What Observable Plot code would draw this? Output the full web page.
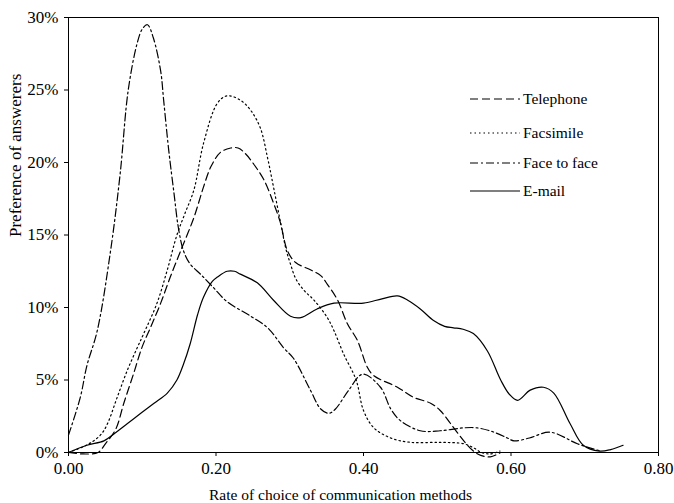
<!DOCTYPE html>
<html>
<head>
<meta charset="utf-8">
<script src="https://cdn.jsdelivr.net/npm/d3@7"></script>
<script src="https://cdn.jsdelivr.net/npm/@observablehq/plot@0.6"></script>
<style>
  body { margin: 0; background: #fff; }
  #wrap { position: relative; width: 674px; height: 503px; font-family: "Liberation Serif", "DejaVu Serif", serif; }
  .leg { position: absolute; left: 470px; display: flex; align-items: center; font-size: 15.5px; color: #000; }
  .leg svg { margin-right: 3px; }
</style>
</head>
<body>
<div id="wrap"></div>
<script>
// Series: x = rate of choice, y = preference (%)
const telephoneX = [0.00,0.02,0.04,0.05,0.064,0.075,0.088,0.10,0.111,0.125,0.138,0.152,0.17,0.183,0.193,0.206,0.22,0.23,0.24,0.251,0.265,0.278,0.287,0.297,0.308,0.328,0.342,0.351,0.365,0.378,0.392,0.405,0.414,0.446,0.468,0.491,0.504,0.518,0.536,0.549,0.559,0.572,0.586];
const telephoneY = [0,-0.1,0,0.6,1.6,3.4,5.4,7.3,8.6,10.3,12.1,13.9,16.2,18.3,19.7,20.7,21.0,21.0,20.6,19.9,18.8,17.2,15.9,13.9,13.1,12.6,12.2,11.6,10.5,8.9,7.7,5.9,5.3,4.5,3.8,3.4,2.9,2.0,0.8,0.1,-0.2,-0.3,0];

const facsimileX = [0.00,0.02,0.034,0.045,0.053,0.066,0.08,0.093,0.102,0.12,0.134,0.147,0.158,0.17,0.183,0.202,0.215,0.233,0.247,0.26,0.27,0.278,0.287,0.295,0.301,0.308,0.319,0.333,0.351,0.36,0.373,0.39,0.40,0.414,0.437,0.464,0.504,0.536,0.55,0.56,0.572,0.585];
const facsimileY = [0,0.4,0.8,1.3,2.0,3.8,5.7,7.2,8.2,10.3,12.6,15.0,16.5,18.1,21.3,24.1,24.6,24.3,23.6,22.4,20.3,18.3,16.0,14.0,13.0,12.0,11.2,10.5,9.3,8.4,6.8,5.0,2.9,1.7,1.0,0.7,0.7,0.6,0.3,0.0,-0.1,0.1];

const faceX = [0.00,0.016,0.025,0.039,0.057,0.07,0.081,0.093,0.100,0.107,0.115,0.125,0.129,0.136,0.143,0.149,0.156,0.165,0.179,0.196,0.215,0.247,0.27,0.292,0.305,0.328,0.342,0.353,0.362,0.38,0.399,0.423,0.437,0.45,0.477,0.504,0.536,0.554,0.577,0.595,0.604,0.625,0.653,0.69,0.708,0.722];
const faceY = [1.2,3.8,6.0,8.4,13.9,19.2,25.0,28.2,29.2,29.5,28.6,26.3,24.3,20.8,17.9,15.5,13.9,13.0,12.3,11.4,10.4,9.4,8.6,7.2,6.5,4.3,3.0,2.7,3.0,4.3,5.4,4.5,3.0,2.2,1.5,1.5,1.7,1.7,1.4,1.0,0.8,1.0,1.4,0.6,0.3,0.1];

const emailX = [0.00,0.025,0.048,0.062,0.08,0.098,0.116,0.134,0.147,0.156,0.165,0.175,0.183,0.195,0.202,0.215,0.225,0.233,0.256,0.278,0.301,0.315,0.337,0.36,0.40,0.425,0.446,0.46,0.477,0.495,0.51,0.522,0.535,0.549,0.568,0.586,0.598,0.609,0.626,0.644,0.658,0.68,0.698,0.72,0.735,0.752];
const emailY = [0,0.5,0.8,1.3,2.0,2.7,3.4,4.1,5.0,6.1,7.5,9.5,10.7,11.8,12.1,12.5,12.5,12.3,11.7,10.5,9.4,9.3,9.9,10.3,10.3,10.6,10.8,10.5,9.9,9.1,8.7,8.6,8.5,8.2,7.0,5.0,4.0,3.6,4.3,4.5,4.1,2.0,0.5,0.1,0.2,0.5];

const seriesNames = ["Telephone", "Facsimile", "Face to face", "E-mail"];
const seriesDash = ["8,4", "1.5,3", "8,3,2,3", null];
const xTicks = [0, 0.2, 0.4, 0.6, 0.8];
const yTicks = [0, 5, 10, 15, 20, 25, 30];
const xTitle = "Rate of choice of communication methods";
const yTitle = "Preference of answerers";

const series = [
  [telephoneX, telephoneY], [facsimileX, facsimileY], [faceX, faceY], [emailX, emailY]
].map(([xs, ys], i) => xs.map((x, j) => ({x, y: ys[j], s: seriesNames[i]})));

const lineMarks = series.map((data, i) => Plot.line(data, {
  x: "x", y: "y", stroke: "black", strokeWidth: 1.2,
  strokeDasharray: seriesDash[i] || undefined, curve: "catmull-rom"
}));

const chart = Plot.plot({
  width: 674, height: 503,
  marginLeft: 68, marginRight: 16, marginTop: 17, marginBottom: 51,
  style: { fontFamily: "Liberation Serif", fontSize: "17px", color: "black", background: "white" },
  x: { domain: [0, 0.8] },
  y: { domain: [0, 30] },
  marks: [
    Plot.frame({ stroke: "black", strokeWidth: 1 }),
    Plot.axisX({ ticks: xTicks, tickFormat: d => d.toFixed(2), tickSize: 4, tickPadding: 5, fontSize: 17, label: null }),
    Plot.axisY({ ticks: yTicks, tickFormat: d => d + "%", tickSize: 4, tickPadding: 6, fontSize: 17, label: null }),
    Plot.text([xTitle], { text: d => d, frameAnchor: "bottom", dx: -23, dy: 43, fontSize: 15.5, lineAnchor: "middle" }),
    Plot.text([yTitle], { text: d => d, frameAnchor: "left", dx: -53, dy: 2, rotate: -90, fontSize: 17, lineAnchor: "middle" }),
    ...lineMarks
  ]
});

const wrap = document.getElementById("wrap");
wrap.appendChild(chart);

const legTops = [90, 124, 154, 182];
seriesNames.forEach((name, i) => {
  const row = document.createElement("div");
  row.className = "leg";
  row.style.top = legTops[i] + "px";
  const dash = seriesDash[i] ? ` stroke-dasharray="${seriesDash[i]}"` : "";
  row.innerHTML = `<svg width="50" height="10"><line x1="0" y1="5" x2="50" y2="5" stroke="black" stroke-width="1.2"${dash}/></svg><span>${name}</span>`;
  wrap.appendChild(row);
});
</script>
</body>
</html>
